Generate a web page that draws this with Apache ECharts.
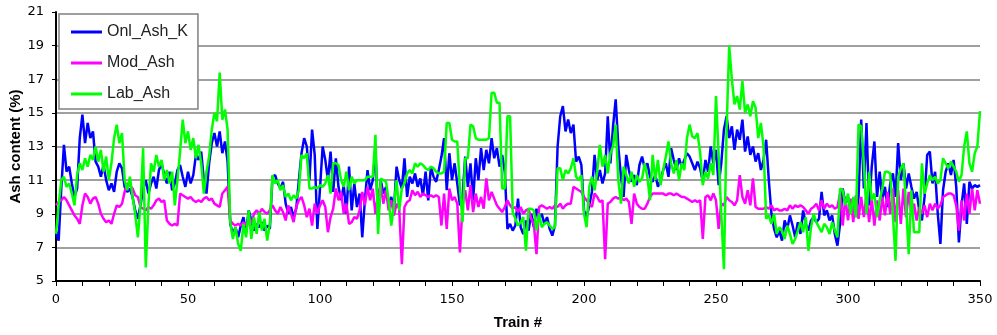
<!DOCTYPE html>
<html>
<head>
<meta charset="utf-8">
<script src="https://cdn.jsdelivr.net/npm/echarts@6/dist/echarts.min.js"></script>
<style>
html,body{margin:0;padding:0;background:#fff;}
#chart{width:997px;height:335px;}
</style>
</head>
<body>
<div id="chart"></div>
<script>
const seriesNames = ["Onl_Ash_K", "Mod_Ash", "Lab_Ash"];
const xTickLabels = [0, 50, 100, 150, 200, 250, 300, 350];
const yTickLabels = [5, 7, 9, 11, 13, 15, 17, 19, 21];

// Onl_Ash_K, train 0..350
const onlAshK = [
8.0,7.4,10.5,13.1,11.5,11.8,10.8,10.0,10.5,13.5,14.9,13.2,14.4,13.5,13.9,12.1,11.8,11.2,11.9,11.0,
10.4,10.8,10.3,11.5,12.0,11.7,10.6,10.3,10.5,10.0,9.2,8.7,9.5,10.5,11.0,10.2,10.8,11.2,10.5,11.6,
12.0,11.3,10.8,11.5,10.4,10.8,11.6,11.9,11.2,10.6,11.5,10.8,11.3,12.5,12.2,12.7,11.0,10.2,12.0,13.2,
13.8,13.0,13.9,12.6,13.3,12.1,8.4,7.8,8.2,7.6,8.3,8.8,7.9,9.2,8.6,8.0,8.4,8.2,8.5,8.0,
8.3,8.1,11.2,11.3,10.8,10.5,10.9,9.6,9.0,9.4,8.8,9.3,11.0,12.6,13.5,13.0,11.0,14.0,12.5,8.1,
10.5,13.0,12.2,11.0,12.7,10.3,12.3,10.6,9.8,10.7,9.0,11.8,9.2,10.8,9.4,10.2,7.6,9.8,11.6,10.4,
11.0,12.9,8.6,11.0,10.2,10.6,9.5,10.0,9.2,11.8,11.0,10.5,12.3,10.0,11.2,10.8,11.4,10.6,11.1,10.1,
11.5,9.8,11.8,11.2,10.9,11.6,12.4,13.5,10.4,12.6,11.0,12.0,10.8,9.5,10.0,12.4,10.6,12.0,9.8,12.3,
11.0,12.9,11.6,12.8,12.0,13.5,12.3,12.9,11.8,12.5,11.5,8.1,8.4,8.0,8.3,9.9,8.2,7.8,8.6,8.0,
9.0,8.2,9.3,8.7,9.0,8.4,8.8,8.1,7.7,8.3,13.0,14.8,15.4,13.9,14.6,13.8,14.3,12.1,12.4,11.9,
9.2,8.8,9.5,10.3,12.5,11.0,11.6,10.8,11.4,14.8,12.0,14.2,15.8,13.0,11.2,10.0,12.5,11.6,10.9,11.3,
10.7,11.9,12.4,11.7,12.0,11.2,10.9,11.3,10.6,11.0,11.6,12.0,11.2,12.9,12.2,11.6,12.3,11.8,12.2,12.6,
12.4,12.0,11.6,12.1,11.7,10.9,12.2,11.5,13.0,12.0,12.8,10.7,12.0,14.0,14.8,13.5,14.2,12.8,14.0,13.4,
14.6,12.7,13.6,12.5,13.0,12.1,12.6,11.6,12.2,13.4,11.0,9.0,8.1,7.6,8.0,7.4,8.6,8.1,8.9,8.3,
7.6,8.5,7.8,9.2,8.4,8.0,8.6,8.8,8.5,8.7,10.3,8.9,9.2,8.6,8.9,7.8,7.1,8.4,10.5,9.6,
10.0,9.2,9.9,8.8,10.0,14.6,10.5,14.4,9.5,11.8,13.3,10.0,11.5,9.8,10.6,9.4,10.8,11.4,10.0,13.2,
11.0,12.0,10.5,11.4,10.6,9.9,10.3,9.2,8.6,10.0,12.5,12.7,10.8,11.5,9.0,7.2,10.4,11.5,12.0,11.3,
12.2,10.6,7.3,9.5,10.8,8.4,10.9,10.5,10.7,10.6,10.7
];

// Mod_Ash, train 0..350
const modAsh = [
9.5,9.7,9.8,10.0,9.8,9.5,9.2,8.9,8.7,8.4,9.5,10.2,10.0,9.6,9.9,10.0,9.6,9.0,8.7,8.5,
8.6,8.4,9.0,9.5,9.4,9.6,10.3,10.8,10.7,10.5,10.1,10.0,9.4,9.3,9.2,9.4,9.3,9.5,9.8,9.9,
9.7,9.8,8.6,8.4,8.3,8.4,8.3,10.2,10.1,10.0,9.9,10.0,9.8,9.7,9.8,9.7,9.9,10.0,9.8,9.9,
9.6,9.5,9.4,10.2,10.4,10.6,8.6,8.4,8.3,8.4,8.3,8.5,8.3,8.6,8.4,9.0,9.2,9.0,9.3,9.1,
9.0,9.2,9.5,9.2,9.0,9.4,9.1,8.6,9.5,9.0,8.5,9.4,9.8,10.0,9.5,8.8,9.3,8.3,9.6,9.0,
9.5,9.8,9.4,7.9,8.8,9.3,10.5,9.8,10.3,9.0,9.6,8.4,8.5,8.8,8.7,9.2,10.3,9.5,10.6,9.8,
10.5,9.0,10.1,10.7,9.6,10.4,9.2,9.8,8.9,9.6,9.3,6.0,9.4,9.7,9.8,10.4,10.1,10.3,10.0,10.2,
10.1,10.0,10.1,10.0,10.1,10.0,8.3,10.2,8.1,10.5,9.8,10.0,9.6,6.7,9.5,10.4,9.2,10.7,9.1,10.2,
9.4,10.0,9.3,11.1,9.8,10.3,9.9,9.5,9.3,9.1,9.4,9.8,9.5,9.3,9.4,9.1,9.4,9.0,9.2,9.3,
8.7,8.4,6.6,9.4,9.5,9.4,9.3,9.4,9.3,9.5,9.4,9.6,9.3,9.5,9.6,9.6,10.6,10.5,10.4,10.3,
10.0,9.8,9.6,9.4,10.2,10.0,9.7,9.8,6.3,9.6,9.7,9.9,10.0,9.9,10.0,9.8,9.9,9.7,8.4,10.2,
9.6,9.4,9.3,9.3,9.6,10.0,10.2,10.2,10.2,10.2,10.2,10.1,10.2,10.2,10.1,10.2,10.1,10.0,10.0,9.9,
9.8,9.7,9.8,9.7,9.8,7.5,10.0,10.1,9.8,10.2,9.8,8.1,9.6,9.5,10.0,9.8,9.7,9.5,9.8,11.3,
10.0,9.6,10.4,9.5,11.1,9.4,9.3,9.3,9.3,9.4,9.3,9.5,9.2,9.3,9.2,9.2,9.3,9.2,9.5,9.3,
9.5,9.4,9.5,9.4,9.2,9.0,9.3,9.4,9.6,9.2,9.8,9.3,9.6,9.4,9.5,9.3,9.4,10.2,8.3,10.0,
8.6,9.9,8.5,10.1,8.7,10.0,8.8,10.1,8.5,9.9,8.3,9.8,8.6,10.0,8.9,10.3,9.0,10.5,8.5,10.4,
8.4,10.5,8.8,10.3,9.0,9.6,8.6,9.4,9.0,9.5,8.8,9.6,9.2,9.6,9.3,9.5,10.0,10.1,10.2,10.2,
10.1,9.5,8.0,9.8,8.6,10.2,9.0,10.5,9.2,10.4,9.6
];

// Lab_Ash, train 0..350
const labAsh = [
7.8,9.5,11.0,11.2,10.6,10.8,10.2,9.5,11.3,12.0,11.6,12.3,11.8,12.5,12.2,13.0,12.1,12.8,11.5,12.4,
11.0,12.0,13.5,14.3,13.2,13.8,11.0,10.4,11.2,10.0,9.0,7.6,9.5,12.9,5.8,9.5,12.0,11.5,12.5,11.8,
12.2,11.0,11.6,10.8,11.5,9.5,11.0,12.7,14.6,13.2,13.9,12.8,13.5,12.3,13.1,12.0,10.2,11.5,12.4,14.0,
15.0,14.5,17.4,14.6,15.2,14.0,8.5,7.5,8.2,7.2,6.8,8.4,7.6,9.2,7.5,8.8,7.8,9.1,8.0,8.7,
7.4,8.4,11.3,10.8,11.0,10.4,10.7,10.0,10.2,9.8,10.1,9.9,10.4,12.5,12.3,12.6,10.5,10.5,10.6,10.5,
10.7,10.6,10.8,11.3,10.2,12.0,12.0,11.9,11.0,10.6,11.5,10.4,11.2,10.8,11.0,11.0,11.0,11.0,11.2,11.2,
11.2,13.7,7.8,11.1,11.0,10.9,9.8,8.3,9.5,11.0,9.2,10.5,10.8,11.4,11.6,11.4,12.0,11.8,12.0,11.9,
11.7,11.6,11.8,11.7,11.5,11.4,11.4,11.5,14.4,14.4,13.4,13.3,13.3,10.5,8.5,12.3,12.3,14.3,14.2,13.5,
13.4,13.4,13.4,13.4,13.5,16.2,16.2,15.6,15.6,10.5,10.5,14.8,14.8,9.1,8.7,8.3,8.5,8.8,6.8,9.3,
9.3,9.2,8.0,9.0,8.2,8.4,8.5,8.3,8.1,8.2,11.7,11.7,11.0,11.6,11.4,11.7,12.3,11.2,11.0,11.3,
9.0,8.2,10.6,11.2,10.4,11.5,13.1,11.8,12.5,11.4,12.6,13.0,14.3,11.0,9.6,11.8,11.3,10.8,11.5,10.6,
11.3,10.9,11.1,12.0,11.2,9.8,12.5,11.0,12.2,10.7,11.6,12.4,13.3,12.0,11.4,12.2,11.0,12.0,11.6,13.5,
14.3,13.6,13.5,13.8,12.6,10.7,11.5,11.1,12.0,11.3,16.0,12.5,9.0,5.7,14.0,19.0,17.0,15.5,16.0,15.2,
16.9,15.0,15.5,14.8,15.7,15.3,13.5,14.4,13.0,8.7,8.9,8.4,9.0,7.8,8.2,8.0,7.5,8.3,7.8,7.2,
7.5,8.0,8.5,7.9,8.8,6.8,8.2,9.0,8.5,8.2,7.9,8.4,8.2,7.8,8.5,8.0,7.6,10.5,10.4,9.5,
10.2,9.0,10.0,8.8,14.3,14.2,12.0,9.0,11.5,9.8,10.2,8.8,9.8,10.5,11.5,11.5,11.4,9.0,6.2,11.2,
11.7,12.0,9.5,6.6,10.4,7.9,7.9,7.9,12.0,10.2,10.8,11.3,11.0,11.2,10.8,11.0,12.3,12.0,11.7,12.1,
11.8,11.5,10.9,11.3,13.0,13.9,12.0,11.5,12.6,13.0,15.1
];

const toPairs = arr => arr.map((v, i) => [i, v]);

const chart = echarts.init(document.getElementById('chart'), null, {renderer: 'canvas'});
const lbl = {fontFamily: 'DejaVu Sans', fontSize: 13, color: '#000'};
chart.setOption({
  animation: false,
  backgroundColor: '#fff',
  grid: {left: 56, right: 17, top: 12, bottom: 54, containLabel: false, outerBoundsMode: 'none'},
  legend: {
    orient: 'vertical', left: 59, top: 14,
    data: seriesNames,
    icon: 'rect', itemWidth: 31, itemHeight: 3, itemGap: 15,
    backgroundColor: '#fff', borderColor: '#808080', borderWidth: 1.5,
    padding: [10, 10, 7, 12],
    textStyle: {fontFamily: 'Liberation Sans', fontSize: 16, color: '#222'}
  },
  xAxis: {
    type: 'value', min: 0, max: 350, interval: 10,
    name: 'Train #', nameLocation: 'middle', nameGap: 34, nameMoveOverlap: false,
    nameTextStyle: {fontFamily: 'Liberation Sans', fontWeight: 'bold', fontSize: 15, color: '#000'},
    axisLine: {show: true, lineStyle: {color: '#000', width: 2}},
    axisTick: {show: true, length: 5, lineStyle: {color: '#000', width: 1}},
    axisLabel: Object.assign({margin: 12, formatter: v => xTickLabels.indexOf(v) >= 0 ? String(v) : ''}, lbl),
    splitLine: {show: false}
  },
  yAxis: {
    type: 'value', min: 5, max: 21, interval: 2,
    name: 'Ash content (%)', nameLocation: 'middle', nameGap: 33, nameRotate: 90, nameMoveOverlap: false,
    nameTextStyle: {fontFamily: 'Liberation Sans', fontWeight: 'bold', fontSize: 15, color: '#000'},
    axisLine: {show: true, lineStyle: {color: '#000', width: 2}},
    axisTick: {show: true, length: 4, lineStyle: {color: '#000', width: 1}},
    axisLabel: Object.assign({margin: 12, formatter: v => yTickLabels.indexOf(v) >= 0 ? String(v) : ''}, lbl),
    splitLine: {show: true, showMinLine: false, showMaxLine: false, lineStyle: {color: '#808080', width: 1.5}}
  },
  series: [
    {name: seriesNames[0], type: 'line', data: toPairs(onlAshK), showSymbol: false, symbol: 'none',
     lineStyle: {color: '#0000ff', width: 2.5}, itemStyle: {color: '#0000ff'}, z: 2},
    {name: seriesNames[1], type: 'line', data: toPairs(modAsh), showSymbol: false, symbol: 'none',
     lineStyle: {color: '#ff00ff', width: 2.5}, itemStyle: {color: '#ff00ff'}, z: 3},
    {name: seriesNames[2], type: 'line', data: toPairs(labAsh), showSymbol: false, symbol: 'none',
     lineStyle: {color: '#00ff00', width: 2.5}, itemStyle: {color: '#00ff00'}, z: 4}
  ]
});
</script>
</body>
</html>
